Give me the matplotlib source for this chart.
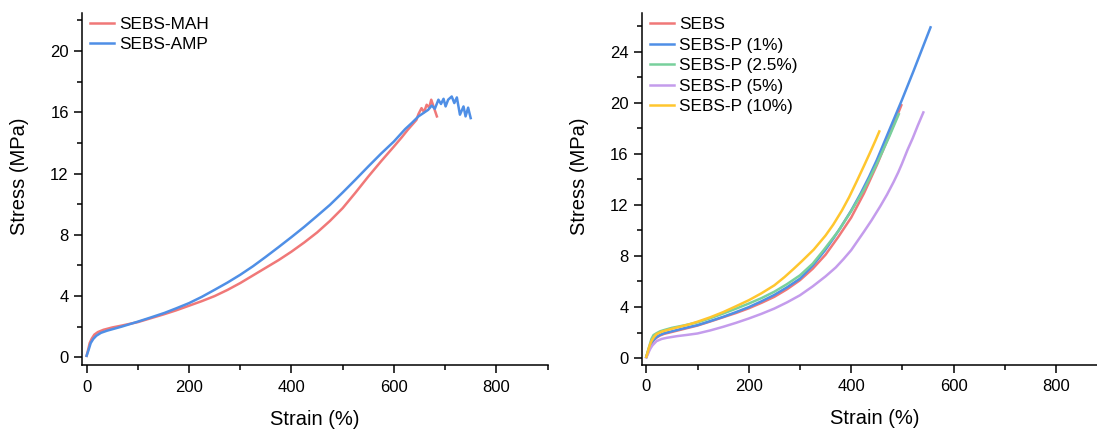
import matplotlib
matplotlib.use("Agg")
import matplotlib.pyplot as plt
from matplotlib.ticker import MultipleLocator

plt.rcParams['font.family'] = ['Liberation Sans', 'DejaVu Sans']

# ---- Left panel data ----
mah_x = [0, 3, 6, 10, 15, 22, 33, 50, 68, 100, 125, 150, 175, 200, 225, 250, 275, 300, 325, 350,
         375, 400, 425, 450, 475, 500, 525, 550, 575, 600, 615, 627, 644,
         648, 654, 659, 664, 669, 673, 684]
mah_y = [0.1, 0.5, 0.93, 1.22, 1.48, 1.65, 1.8, 1.95, 2.07, 2.3, 2.55, 2.8, 3.07, 3.37, 3.67, 4.0, 4.4, 4.85, 5.35, 5.85,
         6.35, 6.9, 7.5, 8.15, 8.9, 9.74, 10.75, 11.8, 12.8, 13.76, 14.35, 14.85, 15.5,
         15.88, 16.27, 16.01, 16.49, 16.31, 16.82, 15.73]
amp_x = [0, 4, 8, 13, 19, 28, 40, 55, 68, 100, 125, 152, 175, 200, 225, 250, 275, 300, 325, 349,
         375, 400, 425, 449, 475, 500, 525, 550, 575, 600, 622, 635, 648,
         667, 674, 680, 687, 692, 697, 701, 706, 713, 718, 723, 729, 736, 740, 745, 750]
amp_y = [0.1, 0.5, 0.93, 1.2, 1.41, 1.6, 1.74, 1.88, 2.0, 2.33, 2.6, 2.9, 3.2, 3.54, 3.95, 4.41, 4.88, 5.39, 5.95, 6.54,
         7.2, 7.85, 8.52, 9.2, 9.95, 10.76, 11.6, 12.46, 13.3, 14.09, 14.9, 15.3, 15.73,
         16.16, 16.44, 16.23, 16.82, 16.54, 16.88, 16.38, 16.82, 17.03, 16.6, 16.97, 15.84, 16.38, 15.73, 16.3, 15.62]

# ---- Right panel data ----
sebs_x = [0, 3, 6, 10, 15, 20, 27, 35, 50, 75, 100, 125, 150, 175, 200, 225, 250, 275, 300, 325,
          350, 375, 400, 425, 450, 475, 498]
sebs_y = [0.1, 0.45, 0.8, 1.15, 1.42, 1.6, 1.78, 1.9, 2.05, 2.3, 2.55, 2.87, 3.2, 3.53, 3.9, 4.33, 4.8, 5.4, 6.1, 7.0,
          8.1, 9.5, 11.0, 12.9, 15.1, 17.5, 19.8]
p1_x = [0, 3, 6, 10, 15, 20, 27, 35, 50, 75, 100, 125, 150, 175, 200, 225, 250, 275, 300, 325,
        349, 365, 379, 400, 418, 435, 450, 476, 499, 522, 555]
p1_y = [0.1, 0.45, 0.8, 1.2, 1.45, 1.65, 1.82, 1.95, 2.1, 2.35, 2.58, 2.9, 3.23, 3.6, 3.99, 4.45, 4.95, 5.55, 6.22, 7.25,
        8.44, 9.35, 10.2, 11.55, 12.85, 14.2, 15.5, 18.0, 20.2, 22.5, 25.9]
p25_x = [0, 3, 6, 10, 14, 20, 27, 35, 50, 75, 100, 125, 150, 175, 200, 225, 250, 275, 300, 325,
         346, 375, 400, 425, 450, 475, 493]
p25_y = [0.1, 0.55, 0.95, 1.5, 1.8, 1.95, 2.1, 2.2, 2.37, 2.57, 2.8, 3.12, 3.49, 3.87, 4.27, 4.7, 5.2, 5.8, 6.48, 7.4,
         8.44, 9.95, 11.5, 13.2, 15.2, 17.4, 19.1]
p5_x = [0, 3, 5, 8, 12, 20, 30, 40, 60, 80, 100, 125, 150, 175, 200, 225, 250, 275, 300, 325,
        350, 370, 385, 400, 425, 440, 457, 470, 483, 492, 499, 510, 520, 530, 541]
p5_y = [0.05, 0.3, 0.5, 0.75, 1.0, 1.33, 1.5, 1.59, 1.72, 1.82, 1.93, 2.17, 2.45, 2.76, 3.1, 3.47, 3.88, 4.37, 4.92, 5.62,
        6.4, 7.1, 7.75, 8.45, 9.9, 10.8, 11.9, 12.8, 13.8, 14.55, 15.2, 16.3, 17.2, 18.2, 19.24]
p10_x = [0, 3, 5, 8, 11, 15, 20, 30, 40, 55, 70, 85, 100, 125, 150, 175, 200, 225, 250, 270,
         288, 304, 327, 350, 365, 382, 396, 411, 425, 437, 447, 455]
p10_y = [0.1, 0.5, 0.8, 1.15, 1.4, 1.65, 1.88, 2.07, 2.19, 2.35, 2.5, 2.66, 2.85, 3.2, 3.6, 4.06, 4.53, 5.08, 5.7, 6.35,
         7.0, 7.6, 8.5, 9.6, 10.45, 11.56, 12.6, 13.85, 15.05, 16.1, 17.0, 17.75]

left_labels = ["SEBS-MAH", "SEBS-AMP"]
right_labels = ["SEBS", "SEBS-P (1%)", "SEBS-P (2.5%)", "SEBS-P (5%)", "SEBS-P (10%)"]

RED = "#F07878"
BLUE = "#4F8FE6"
GREEN = "#78D09C"
PURPLE = "#C49CEC"
YELLOW = "#FFC62E"

W, H = 1097, 430
fig = plt.figure(figsize=(W / 100, H / 100), dpi=100)

def px_axes(x0, x1, ybot, ytop):
    return fig.add_axes([x0 / W, (H - ybot) / H, (x1 - x0) / W, (ybot - ytop) / H])

axL = px_axes(82, 547.5, 365, 12.7)
axR = px_axes(641.7, 1107.2, 364.5, 13.3)

lw = 1.8
axL.plot(mah_x, mah_y, color=RED, lw=lw, label=left_labels[0])
axL.plot(amp_x, amp_y, color=BLUE, lw=lw, label=left_labels[1])

axR.plot(sebs_x, sebs_y, color=RED, lw=lw, label=right_labels[0])
axR.plot(p1_x, p1_y, color=BLUE, lw=lw, label=right_labels[1])
axR.plot(p25_x, p25_y, color=GREEN, lw=lw, label=right_labels[2])
axR.plot(p5_x, p5_y, color=PURPLE, lw=lw, label=right_labels[3])
axR.plot(p10_x, p10_y, color=YELLOW, lw=lw, label=right_labels[4])

axL.set_xlim(-9, 900)
axL.set_ylim(-0.5, 22.5)
axR.set_xlim(-9, 900)
axR.set_ylim(-0.5, 27)

for ax in (axL, axR):
    for s in ("top", "right"):
        ax.spines[s].set_visible(False)
    for s in ("left", "bottom"):
        ax.spines[s].set_linewidth(1.1)
    ax.xaxis.set_major_locator(MultipleLocator(200))
    ax.xaxis.set_minor_locator(MultipleLocator(100))
    ax.yaxis.set_major_locator(MultipleLocator(4))
    ax.yaxis.set_minor_locator(MultipleLocator(2))
    ax.tick_params(which="major", direction="out", length=5.5, width=1.1, labelsize=12)
    ax.tick_params(which="minor", direction="out", length=3.8, width=1.1)
    ax.tick_params(axis="x", which="major", pad=5)
    ax.tick_params(axis="y", which="major", pad=4)
    ax.set_xlabel("Strain (%)", fontsize=14.5)
    ax.set_ylabel("Stress (MPa)", fontsize=14.5, va="center")
    ax.yaxis.set_label_coords(-0.134, 0.535)
    ax.xaxis.set_label_coords(0.5, -0.128)
    ax.legend(loc="upper left", bbox_to_anchor=(0.017, 0.989), frameon=False,
              fontsize=12.4, handlelength=1.4, handletextpad=0.3, labelspacing=0.32,
              borderpad=0, borderaxespad=0)

fig.savefig("out.png", dpi=100)
